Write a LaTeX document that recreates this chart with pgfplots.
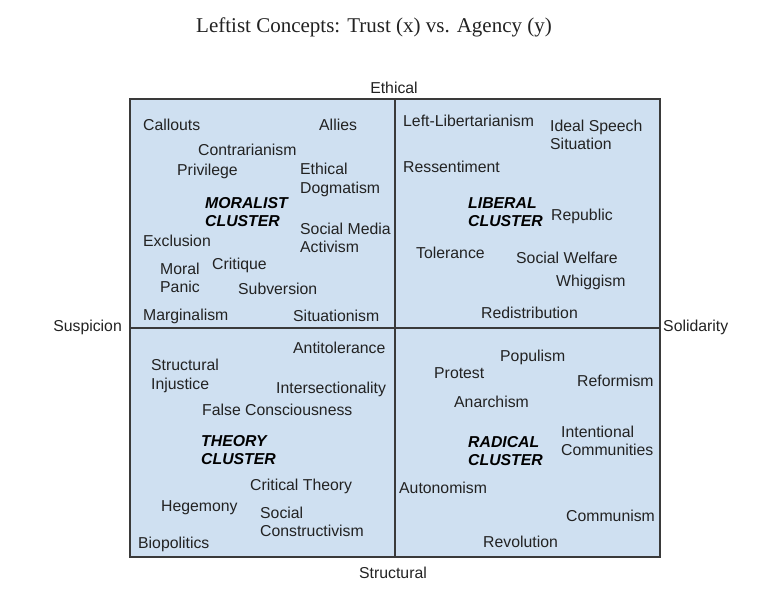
\documentclass[border=0pt]{standalone}
\usepackage{pgfplots}
\pgfplotsset{compat=1.18}
\usepackage{fontspec}
\setmainfont{Liberation Sans}
\newfontfamily\titlefont{Liberation Serif}
\definecolor{quadfill}{HTML}{CFE0F1}
\definecolor{framegray}{HTML}{3A3A3A}
\definecolor{inkdark}{HTML}{222222}

\begin{document}
\begin{tikzpicture}
\begin{axis}[
  width=770pt, height=595pt,
  scale only axis,
  xmin=0, xmax=770, ymin=0, ymax=595,
  y dir=reverse,
  hide axis,
  clip=false,
]
% background canvas, sets picture size
\path (axis cs:0,0) rectangle (axis cs:770,595);

% quadrant box
\addplot[fill=quadfill, draw=framegray, line width=1.8pt]
  coordinates {(130,99) (660,99) (660,557) (130,557)} -- cycle;
\addplot[draw=framegray, line width=1.5pt] coordinates {(395,99) (395,557)};
\addplot[draw=framegray, line width=1.5pt] coordinates {(130,328) (660,328)};

% concept labels (left edge, vertical centre)
\addplot[only marks, mark=none,
  point meta=explicit symbolic,
  nodes near coords,
  nodes near coords style={anchor=west, inner sep=0pt, align=left,
    text=inkdark, font=\fontsize{15.8}{18.5}\selectfont},
] coordinates {
  (143,125) [Callouts]
  (319,125) [Allies]
  (198,150) [Contrarianism]
  (177,171) [Privilege]
  (300,180) [{Ethical\\Dogmatism}]
  (300,238) [{Social Media\\Activism}]
  (143,241) [Exclusion]
  (160,278) [{Moral\\Panic}]
  (212,265) [Critique]
  (238,289) [Subversion]
  (143,316) [Marginalism]
  (293,316) [Situationism]
  (403,121) [Left-Libertarianism]
  (550,135) [{Ideal Speech\\Situation}]
  (403,167) [Ressentiment]
  (551,216) [Republic]
  (416,253) [Tolerance]
  (516,258) [Social Welfare]
  (556,282) [Whiggism]
  (481,313) [Redistribution]
  (293,348) [Antitolerance]
  (151,376) [{Structural\\Injustice}]
  (276,389) [Intersectionality]
  (202,410) [False Consciousness]
  (250,486) [Critical Theory]
  (161,508) [Hegemony]
  (260,522) [{Social\\Constructivism}]
  (138,544) [Biopolitics]
  (500,357) [Populism]
  (434,373) [Protest]
  (577,381) [Reformism]
  (454,402) [Anarchism]
  (561,441) [{Intentional\\Communities}]
  (399,488) [Autonomism]
  (566,516) [Communism]
  (483,542) [Revolution]
};

% cluster names
\addplot[only marks, mark=none,
  point meta=explicit symbolic,
  nodes near coords,
  nodes near coords style={anchor=west, inner sep=0pt, align=left,
    text=black, font=\fontsize{15.8}{18.5}\selectfont\bfseries\itshape},
] coordinates {
  (205,212) [{MORALIST\\CLUSTER}]
  (468,212) [{LIBERAL\\CLUSTER}]
  (201,450) [{THEORY\\CLUSTER}]
  (468,451) [{RADICAL\\CLUSTER}]
};

% axis pole labels
\node[text=inkdark, font=\fontsize{15.8}{18.5}\selectfont] at (axis cs:394,88) {Ethical};
\node[text=inkdark, font=\fontsize{15.8}{18.5}\selectfont] at (axis cs:393,573) {Structural};
\node[text=inkdark, anchor=east, inner sep=0pt, font=\fontsize{15.8}{18.5}\selectfont] at (axis cs:122,327) {Suspicion};
\node[text=inkdark, anchor=west, inner sep=0pt, font=\fontsize{15.8}{18.5}\selectfont] at (axis cs:663,327) {Solidarity};

% title
\node[text=inkdark, font=\titlefont\fontsize{21}{25}\selectfont] at (axis cs:374,27) {Leftist Concepts: Trust (x) vs. Agency (y)};
\end{axis}
\end{tikzpicture}
\end{document}
